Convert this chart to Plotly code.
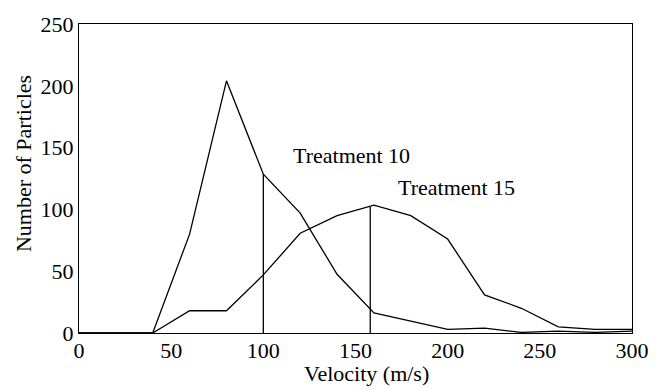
import plotly.graph_objects as go

# Particle velocity distributions (m/s) for two treatments
velocity = [0, 20, 40, 60, 80, 100, 120, 140, 160, 180, 200, 220, 240, 260, 280, 300]
treatment_10 = [0, 0, 0, 80, 204, 128.5, 97, 47.5, 16.3, 9.7, 3, 4, 0.5, 1.5, 0.5, 1.5]
treatment_15 = [0, 0, 0, 18, 18, 47, 80.7, 95, 103.5, 95, 76, 30.8, 20, 5, 3, 3]

# Mean-velocity markers: (velocity, particle count at that velocity)
mean_10 = (100, 128.5)
mean_15 = (158, 102)

label_10 = "Treatment 10"
label_15 = "Treatment 15"

x_ticks = [0, 50, 100, 150, 200, 250, 300]
y_ticks = [0, 50, 100, 150, 200, 250]

FONT = "Liberation Serif, Times New Roman, serif"
FS = 22
line_style = dict(color="black", width=1.3)

fig = go.Figure()
fig.add_trace(go.Scatter(x=velocity, y=treatment_10, mode="lines", line=line_style,
                         name=label_10, showlegend=False))
fig.add_trace(go.Scatter(x=velocity, y=treatment_15, mode="lines", line=line_style,
                         name=label_15, showlegend=False))
for mx, my in (mean_10, mean_15):
    fig.add_trace(go.Scatter(x=[mx, mx], y=[0, my], mode="lines", line=line_style,
                             showlegend=False, hoverinfo="skip"))

fig.add_annotation(x=147.6, y=144, text=label_10, showarrow=False,
                   font=dict(family=FONT, size=FS, color="black"))
fig.add_annotation(x=205, y=118, text=label_15, showarrow=False,
                   font=dict(family=FONT, size=FS, color="black"))

# Axis titles
fig.add_annotation(x=0.519, y=-0.13, xref="paper", yref="paper", yanchor="middle",
                   text="Velocity (m/s)", showarrow=False,
                   font=dict(family=FONT, size=FS, color="black"))
fig.add_annotation(x=-0.1, y=0.549, xref="paper", yref="paper", xanchor="center",
                   yanchor="middle", textangle=-90, text="Number of Particles",
                   showarrow=False, font=dict(family=FONT, size=FS, color="black"))

axis_common = dict(showgrid=False, zeroline=False, showline=True, linecolor="black",
                   linewidth=1.3, mirror=True, ticks="", ticklen=0,
                   tickfont=dict(family=FONT, size=FS, color="black"))

fig.update_layout(
    width=664, height=390,
    margin=dict(l=79, r=32, t=16, b=57),
    paper_bgcolor="white", plot_bgcolor="white",
    xaxis=dict(range=[0, 300], tickvals=x_ticks, ticklabelstandoff=-3, **axis_common),
    yaxis=dict(range=[0, 250], tickvals=y_ticks, **axis_common),
    font=dict(family=FONT, color="black"),
)

fig.write_html("out.html")
